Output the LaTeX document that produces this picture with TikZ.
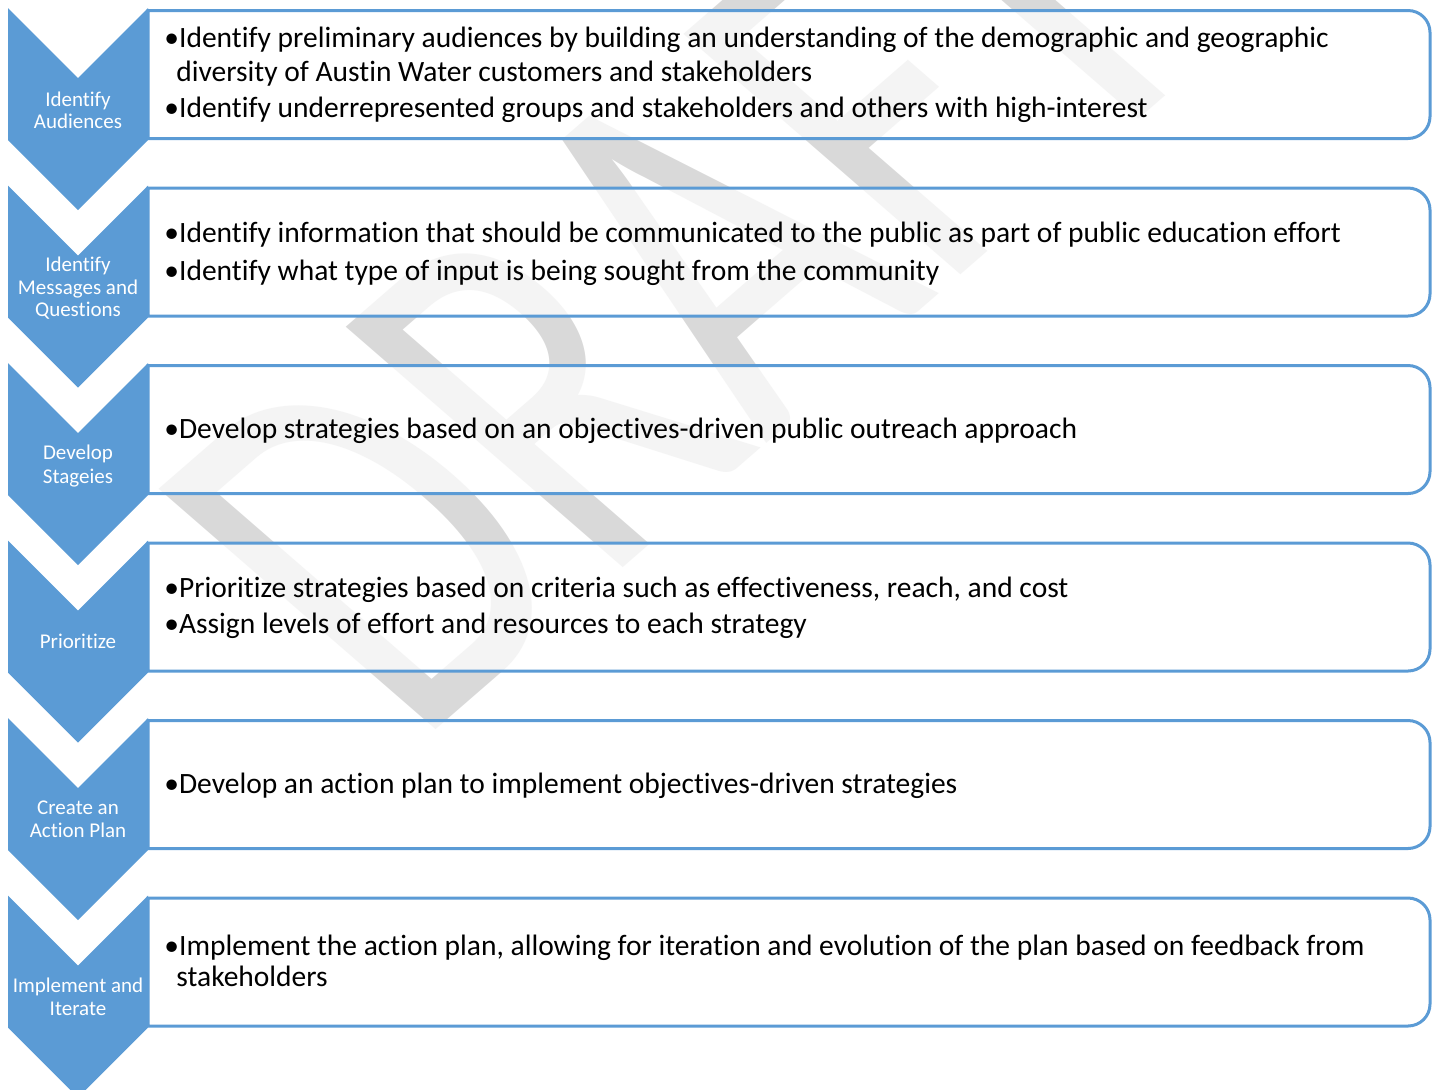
\documentclass[tikz,border=0pt]{standalone}
\usepackage{fontspec}
\setmainfont{Carlito}[Ligatures={NoCommon}]
\definecolor{acc}{HTML}{5B9BD5}
\definecolor{wm}{HTML}{D9D9D9}
\begin{document}
\begin{tikzpicture}[x=0.5pt,y=-0.5pt,
  chevfill/.style={fill=acc, draw=none},
  panel/.style={draw=acc, line width=1.5pt, fill=white, fill opacity=0.72},
  lab/.style={text=white, font=\fontsize{10.5}{12}\selectfont, anchor=base, inner sep=0},
  btxt/.style={text=black, font=\fontsize{14.75}{18}\selectfont, anchor=base west, inner sep=0}]
\useasboundingbox (0,0) rectangle (1438,1089);
\clip (0,0) rectangle (1438,1089);
% watermark
\begin{scope}[shift={(415,748)}, xscale=1.152, rotate=45, xscale=0.70]
\node[transform shape, anchor=base west, inner sep=0, text=wm,
      font=\fontsize{265}{270}\selectfont] (wmark) at (0,0) {DRAFT};
\end{scope}
% chevrons and panels
\foreach \t in {8,185.5,363,540.5,718,895.5} {
  \path[chevfill] (8,\t) -- (78,\t+70) -- (148,\t) -- (148,\t+132) -- (78,\t+202) -- (8,\t+132) -- cycle;
  \draw[panel] (148,\t+2.5) -- (1408,\t+2.5) arc[start angle=-90,end angle=0,radius=22]
     -- (1430,\t+108.5) arc[start angle=0,end angle=90,radius=22] -- (148,\t+130.5) -- cycle;
}
% chevron labels
\node[lab] (c1a) at (78,106) {Identify};
\node[lab] (c1b) at (78,128.5) {Audiences};
\node[lab] (c2a) at (78,271.5) {Identify};
\node[lab] (c2b) at (78,294) {Messages and};
\node[lab] (c2c) at (78,316.5) {Questions};
\node[lab] (c3a) at (78,459.5) {Develop};
\node[lab] (c3b) at (78,483) {Stageies};
\node[lab] (c4a) at (78,648) {Prioritize};
\node[lab] (c5a) at (78,814) {Create an};
\node[lab] (c5b) at (78,837.5) {Action Plan};
\node[lab] (c6a) at (78,992) {Implement and};
\node[lab] (c6b) at (78,1015.5) {Iterate};
% panel texts
\node[btxt] (t1a) at (164,47) {•Identify preliminary audiences by building an understanding of the demographic and geographic};
\node[btxt] (t1b) at (176,81) {diversity of Austin Water customers and stakeholders};
\node[btxt] (t1c) at (164,117) {•Identify underrepresented groups and stakeholders and others with high-interest};
\node[btxt] (t2a) at (164,242) {•Identify information that should be communicated to the public as part of public education effort};
\node[btxt] (t2b) at (164,280) {•Identify what type of input is being sought from the community};
\node[btxt] (t3a) at (164,438) {•Develop strategies based on an objectives-driven public outreach approach};
\node[btxt] (t4a) at (164,597) {•Prioritize strategies based on criteria such as effectiveness, reach, and cost};
\node[btxt] (t4b) at (164,633) {•Assign levels of effort and resources to each strategy};
\node[btxt] (t5a) at (164,793) {•Develop an action plan to implement objectives-driven strategies};
\node[btxt] (t6a) at (164,955) {•Implement the action plan, allowing for iteration and evolution of the plan based on feedback from};
\node[btxt] (t6b) at (176,986) {stakeholders};
\end{tikzpicture}
\end{document}
